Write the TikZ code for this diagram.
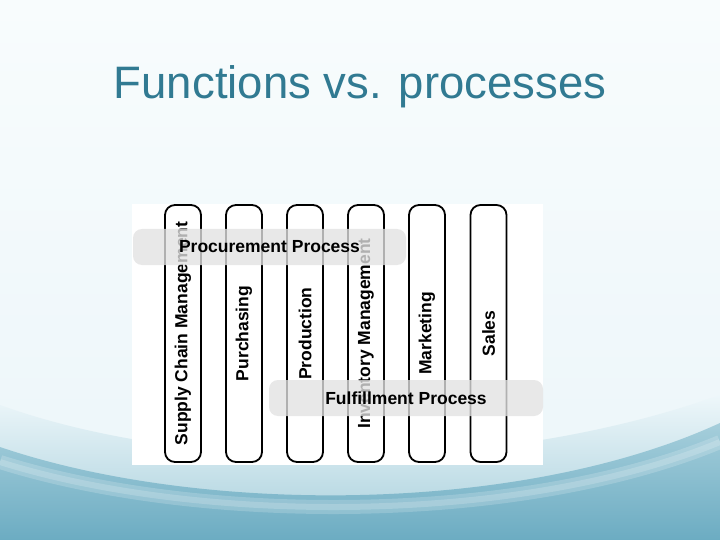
\documentclass[tikz,border=0pt]{standalone}
\usepackage{fontspec}
\setmainfont{Liberation Sans}
\setsansfont{Liberation Sans}
\definecolor{titleblue}{RGB}{49,122,146}
\definecolor{bgtop}{RGB}{248,252,253}
\definecolor{bgmid}{RGB}{238,247,250}
\definecolor{wavelight}{RGB}{214,234,240}
\definecolor{wavemid}{RGB}{165,206,219}
\definecolor{wavedark}{RGB}{108,172,194}
\definecolor{bandgray}{RGB}{226,226,226}
\tikzset{
  colbox/.style={draw=black, line width=1.8pt, rounded corners=10pt, fill=white,
    minimum width=257pt, minimum height=36pt, inner sep=0pt, rotate=90,
    font=\fontsize{17.5}{20}\selectfont\bfseries},
  bandbox/.style={fill=bandgray, fill opacity=0.78, text opacity=1, rounded corners=9pt,
    minimum width=273pt, minimum height=36pt, inner sep=0pt,
    font=\fontsize{17.5}{20}\selectfont\bfseries},
}
\begin{document}
\begin{tikzpicture}[x=1pt,y=-1pt]
\useasboundingbox (0,0) rectangle (720,540);
% background
\shade[top color=bgtop, bottom color=bgmid] (0,0) rectangle (720,420);
\fill[bgmid] (0,419) rectangle (720,540);
% soft upper wave
\shade[top color=bgmid, bottom color=wavemid] (0,405) .. controls (180,470) and (480,480) .. (720,395) -- (720,540) -- (0,540) -- cycle;
% darker wave
\shade[top color=wavemid, bottom color=wavedark] (0,447) .. controls (200,515) and (520,515) .. (720,423) -- (720,540) -- (0,540) -- cycle;
% light sheen band
\draw[white, opacity=0.18, line width=14pt] (0,462) .. controls (200,525) and (520,525) .. (720,442);
\draw[white, opacity=0.18, line width=6pt] (0,462) .. controls (200,525) and (520,525) .. (720,442);
% title
\node[text=titleblue, font=\fontsize{45.5}{50}\selectfont, anchor=base] (title) at (360,99) {Functions vs. processes};
% diagram canvas
\fill[white] (132,204) rectangle (543,465);
% columns
\node[colbox] (c1) at (183,333.5) {Supply Chain Management};
\node[colbox] (c2) at (244,333.5) {Purchasing};
\node[colbox] (c3) at (305,333.5) {Production};
\node[colbox] (c4) at (366,333.5) {Inventory Management};
\node[colbox] (c5) at (427,333.5) {Marketing};
\node[colbox] (c6) at (488.5,333.5) {Sales};
% process bands
\node[bandbox] (proc) at (269.5,247) {Procurement Process};
\node[bandbox, minimum width=274pt] (fulf) at (406,398) {Fulfillment Process};
\end{tikzpicture}
\end{document}
